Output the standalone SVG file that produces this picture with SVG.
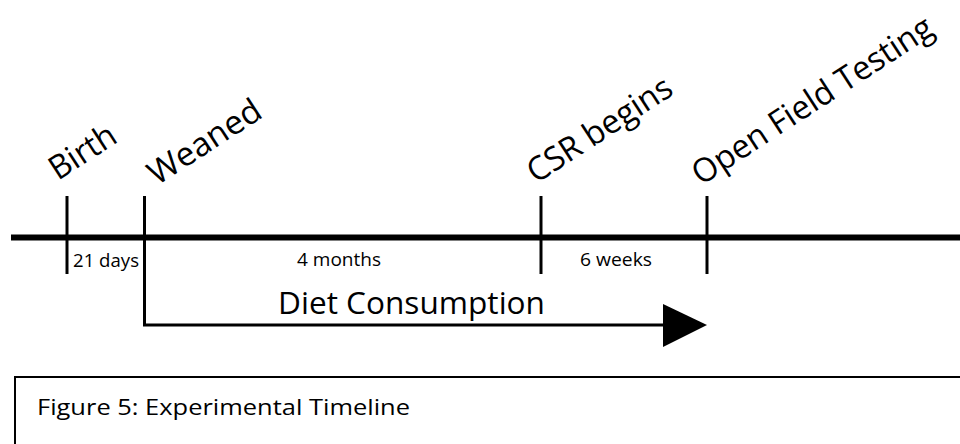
<svg xmlns="http://www.w3.org/2000/svg" width="960" height="444" viewBox="0 0 960 444">
<style>
.ln{stroke:#000;fill:none}
.lab{font-family:"Open Sans","Noto Sans",sans-serif;font-size:33px;fill:#000}
.sm{font-family:"Open Sans","Noto Sans",sans-serif;font-size:18.5px;fill:#000}
</style>
<rect width="960" height="444" fill="#fff"/>
<g id="connectors">
<line class="ln" x1="11" y1="237.5" x2="960" y2="237.5" stroke-width="6"/>
<path class="ln" d="M144.5 237 V325 H664" stroke-width="3"/>
<polygon points="663,304 707,325 663,347" fill="#000"/>
</g>
<g id="birth"><line class="ln" x1="67" y1="196" x2="67" y2="274" stroke-width="3"/><text class="lab" transform="translate(58,181) rotate(-33)" textLength="73" lengthAdjust="spacingAndGlyphs">Birth</text></g>
<g id="weaned"><line class="ln" x1="144.5" y1="196" x2="144.5" y2="240" stroke-width="3"/><text class="lab" transform="translate(157,186) rotate(-33)" textLength="128" lengthAdjust="spacingAndGlyphs">Weaned</text></g>
<g id="csr"><line class="ln" x1="541" y1="196" x2="541" y2="274" stroke-width="3"/><text class="lab" transform="translate(536,184) rotate(-33)" textLength="166" lengthAdjust="spacingAndGlyphs">CSR begins</text></g>
<g id="openfield"><line class="ln" x1="707" y1="196" x2="707" y2="274" stroke-width="3"/><text class="lab" transform="translate(701,186) rotate(-33)" textLength="280" lengthAdjust="spacingAndGlyphs">Open Field Testing</text></g>
<g id="durations">
<text class="sm" x="73" y="267" textLength="66" lengthAdjust="spacingAndGlyphs">21 days</text>
<text class="sm" x="297" y="266" textLength="84" lengthAdjust="spacingAndGlyphs">4 months</text>
<text class="sm" x="580" y="266" textLength="72" lengthAdjust="spacingAndGlyphs">6 weeks</text>
</g>
<g id="diet"><text x="278" y="314" font-family="'Open Sans','Noto Sans',sans-serif" font-size="31" textLength="267" lengthAdjust="spacingAndGlyphs">Diet Consumption</text></g>
<g id="caption">
<rect x="15" y="377" width="960" height="100" fill="#fff" stroke="#000" stroke-width="2"/>
<text x="37" y="415" font-family="'Open Sans','Noto Sans',sans-serif" font-size="22" textLength="373" lengthAdjust="spacingAndGlyphs">Figure 5: Experimental Timeline</text>
</g>
</svg>
